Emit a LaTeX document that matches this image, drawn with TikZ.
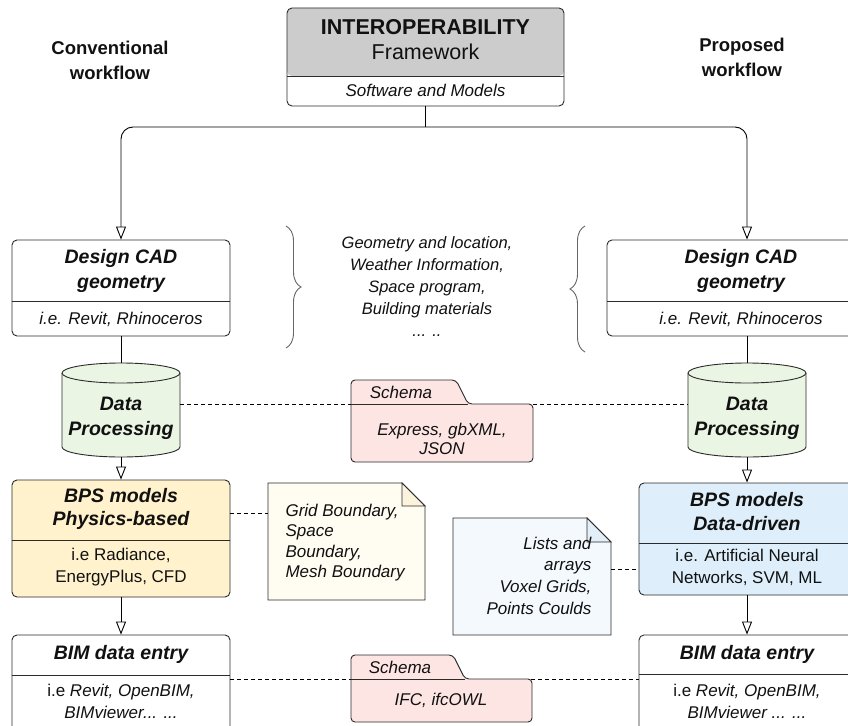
\documentclass[tikz,border=0pt]{standalone}
\usepackage{fontspec}
\setmainfont{Liberation Sans}
\usetikzlibrary{arrows.meta,decorations.pathreplacing}

\definecolor{linec}{HTML}{2B2B2B}
\definecolor{txtc}{HTML}{111111}
\definecolor{grayfill}{HTML}{CCCCCC}
\definecolor{cylfill}{HTML}{EBF5E4}
\definecolor{physfill}{HTML}{FFF2CC}
\definecolor{datafill}{HTML}{DEEFFB}
\definecolor{schemafill}{HTML}{FDE5E3}
\definecolor{notewarm}{HTML}{FFFCF2}
\definecolor{foldwarm}{HTML}{FBF3DC}
\definecolor{notecool}{HTML}{F4F9FE}
\definecolor{foldcool}{HTML}{E2EEF8}
\definecolor{bracec}{HTML}{666666}

\tikzset{
  box/.style={draw=linec, line width=0.9pt, rounded corners=5pt, inner sep=0pt, fill=white},
  anchorbox/.style={inner sep=0pt, outer sep=0pt},
  hd/.style={text=txtc, font=\fontsize{19.5}{25}\selectfont\bfseries\itshape, align=center},
  tx/.style={text=txtc, font=\fontsize{17}{22}\selectfont, align=center},
  itx/.style={tx, font=\fontsize{17}{22}\selectfont\itshape},
  side/.style={text=txtc, font=\fontsize{18.5}{25}\selectfont\bfseries, align=center},
  conn/.style={draw=black, line width=0.9pt},
  arr/.style={conn, -{Triangle[open, length=13pt, width=10pt]}},
  link/.style={draw=black, line width=0.8pt, dash pattern=on 4pt off 3pt},
  divider/.style={draw=linec, line width=0.9pt},
  folder/.style={draw=linec, line width=0.9pt, fill=schemafill, rounded corners=4pt},
  notebody/.style={draw=linec, line width=0.9pt},
  curly/.style={draw=bracec, line width=0.9pt, decorate, decoration={brace, amplitude=15pt}},
  datacyl/.pic={
    \filldraw[draw=linec, line width=0.9pt, fill=cylfill]
      (-59,-37) -- (-59,37)
      arc[start angle=180, end angle=360, x radius=59pt, y radius=10pt]
      -- (59,-37)
      arc[start angle=0, end angle=180, x radius=59pt, y radius=10pt] -- cycle;
    \draw[draw=linec, line width=0.9pt]
      (-59,-37) arc[start angle=180, end angle=360, x radius=59pt, y radius=10pt];
  }
}

\begin{document}
\begin{tikzpicture}[x=1pt, y=-1pt]
\useasboundingbox (0,0) rectangle (848,725);
\fill[white] (0,0) rectangle (848,725);

% ---- framework header ----
\node[box, minimum width=277pt, minimum height=98pt,
  path picture={\fill[grayfill] (path picture bounding box.north west)
     rectangle ([yshift=-68pt]path picture bounding box.north east);}] (top) at (425.5,57) {};
\draw[divider] (287,76) -- (564,76);
\node[text=txtc, font=\fontsize{21.5}{25}\selectfont, align=center] (toptitle) at (425.5,39.5)
  {\textbf{INTEROPERABILITY}\\Framework};
\node[itx] (topsub) at (425.5,90) {Software and Models};

\node[side] (convtitle) at (110,60.5) {Conventional\\workflow};
\node[side] (proptitle) at (742,57.5) {Proposed\\workflow};

% ---- design CAD boxes ----
\node[box, minimum width=218pt, minimum height=96pt] (dcadL) at (121,288) {};
\draw[divider] (12,301) -- (230,301);
\node[hd] (dcadLt) at (121,271) {Design CAD\\geometry};
\node[itx] (dcadLs) at (121,319) {i.e. Revit, Rhinoceros};

\node[box, minimum width=280pt, minimum height=96pt] (dcadR) at (747,288) {};
\draw[divider] (607,301) -- (887,301);
\node[hd] (dcadRt) at (741,271) {Design CAD\\geometry};
\node[itx] (dcadRs) at (741,319) {i.e. Revit, Rhinoceros};

% ---- split connector from the header ----
\coordinate (split) at (425.5,127);
\draw[conn] (top.south) -- (split);
\draw[arr, rounded corners=12pt] (split) -| (dcadL.north);
\draw[arr, rounded corners=12pt] (split) -| (dcadR.north);

% ---- braces and shared inputs ----
\draw[curly] (286,226) -- (286,348);
\draw[curly] (585,352) -- (585,226);
\node[itx, font=\fontsize{16.5}{22}\selectfont\itshape] (inputs) at (427,286.5)
  {Geometry and location,\\Weather Information,\\Space program,\\Building materials\\... ..};

% ---- data processing cylinders ----
\node[anchorbox, minimum width=118pt, minimum height=94pt] (cylL) at (121,410) {};
\pic at (121,410) {datacyl};
\node[hd] (cylLt) at (121,418.5) {Data\\Processing};
\node[anchorbox, minimum width=118pt, minimum height=94pt] (cylR) at (747,410) {};
\pic at (747,410) {datacyl};
\node[hd] (cylRt) at (747,418.5) {Data\\Processing};

\draw[conn] (dcadL.south) -- (cylL.north);
\draw[conn] (dcadR.south) -- (cylR.north);

% ---- upper schema folder ----
\node[anchorbox, minimum width=182pt, minimum height=58pt] (schA) at (442,433) {};
\draw[link] (cylL.east |- schA.north west) -- (schA.north west);
\draw[link] (schA.north east) -- (cylR.west |- schA.north east);
\filldraw[folder] (351,462) -- (351,380) -- (456,380) -- (468,404) -- (533,404) -- (533,462) -- cycle;
\draw[divider] (351,404) -- (468,404);
\node[itx] (schAt) at (401,392) {Schema};
\node[itx, font=\fontsize{17}{19}\selectfont\itshape] (schAs) at (442,439) {Express, gbXML,\\JSON};

% ---- BPS model boxes ----
\node[box, fill=physfill, minimum width=218pt, minimum height=117pt] (bpsL) at (121,538.5) {};
\draw[divider] (12,540) -- (230,540);
\node[hd, font=\fontsize{19.5}{23}\selectfont\bfseries\itshape] (bpsLt) at (121,508.5) {BPS models\\Physics-based};
\node[tx] (bpsLs) at (121,567) {i.e Radiance,\\EnergyPlus, CFD};

\node[box, fill=datafill, minimum width=216pt, minimum height=112pt] (bpsR) at (747,539) {};
\draw[divider] (639,543) -- (855,543);
\node[hd, font=\fontsize{19.5}{24}\selectfont\bfseries\itshape] (bpsRt) at (747,512) {BPS models\\Data-driven};
\node[tx] (bpsRs) at (747,567.5) {i.e. Artificial Neural\\Networks, SVM, ML};

\draw[arr] (cylL.south) -- (bpsL.north);
\draw[arr] (cylR.south) -- (bpsR.north);

% ---- notes ----
\node[anchorbox, minimum width=157pt, minimum height=117pt] (noteL) at (346.5,541.5) {};
\filldraw[notebody, fill=notewarm] (noteL.north west) -- ([xshift=-23pt]noteL.north east)
  -- ([yshift=-23pt]noteL.north east) -- (noteL.south east) -- (noteL.south west) -- cycle;
\filldraw[notebody, fill=foldwarm] ([xshift=-23pt]noteL.north east)
  -- ([xshift=-23pt, yshift=-23pt]noteL.north east) -- ([yshift=-23pt]noteL.north east) -- cycle;
\node[itx, align=left, anchor=west, font=\fontsize{17}{20.5}\selectfont\itshape] (noteLt) at (282,542.5)
  {Grid Boundary,\\Space\\Boundary,\\Mesh Boundary};

\node[anchorbox, minimum width=158pt, minimum height=117pt] (noteR) at (532,576.5) {};
\filldraw[notebody, fill=notecool] (noteR.north west) -- ([xshift=-24pt]noteR.north east)
  -- ([yshift=-24pt]noteR.north east) -- (noteR.south east) -- (noteR.south west) -- cycle;
\filldraw[notebody, fill=foldcool] ([xshift=-24pt]noteR.north east)
  -- ([xshift=-24pt, yshift=-24pt]noteR.north east) -- ([yshift=-24pt]noteR.north east) -- cycle;
\node[itx, align=right, anchor=east, font=\fontsize{17}{21.7}\selectfont\itshape] (noteRt) at (595,575.5)
  {Lists and\\arrays\\Voxel Grids,\\Points Coulds};

\path ([yshift=25.5pt]bpsL.east) coordinate (dl1);
\draw[link] (dl1) -- (dl1 -| noteL.west);
\path ([yshift=-30pt]bpsR.west) coordinate (dr1);
\draw[link] (dr1 -| noteR.east) -- (dr1);

% ---- BIM data entry boxes ----
\node[box, minimum width=218pt, minimum height=120pt] (bimL) at (121,695) {};
\draw[divider] (12,675) -- (230,675);
\node[hd] (bimLt) at (121,654) {BIM data entry};
\node[tx] (bimLs) at (121,701.5) {i.e \textit{Revit, OpenBIM,}\\\textit{BIMviewer... ...}};

\node[box, minimum width=216pt, minimum height=120pt] (bimR) at (747,695) {};
\draw[divider] (639,674) -- (855,674);
\node[hd] (bimRt) at (747,654) {BIM data entry};
\node[tx] (bimRs) at (747,701.5) {i.e \textit{Revit, OpenBIM,}\\\textit{BIMviewer ... ...}};

\draw[arr] (bpsL.south) -- (bimL.north);
\draw[arr] (bpsR.south) -- (bimR.north);

% ---- lower schema folder ----
\node[anchorbox, minimum width=181pt, minimum height=43pt] (schB) at (441.5,700.5) {};
\draw[link] (bimL.east |- schB.north west) -- (bimR.west |- schB.north west);
\filldraw[folder] (351,722) -- (351,655) -- (453,655) -- (465,679) -- (532,679) -- (532,722) -- cycle;
\draw[divider] (351,679) -- (465,679);
\node[itx] (schBt) at (400,667) {Schema};
\node[itx] (schBs) at (441,700) {IFC, ifcOWL};
\end{tikzpicture}
\end{document}
